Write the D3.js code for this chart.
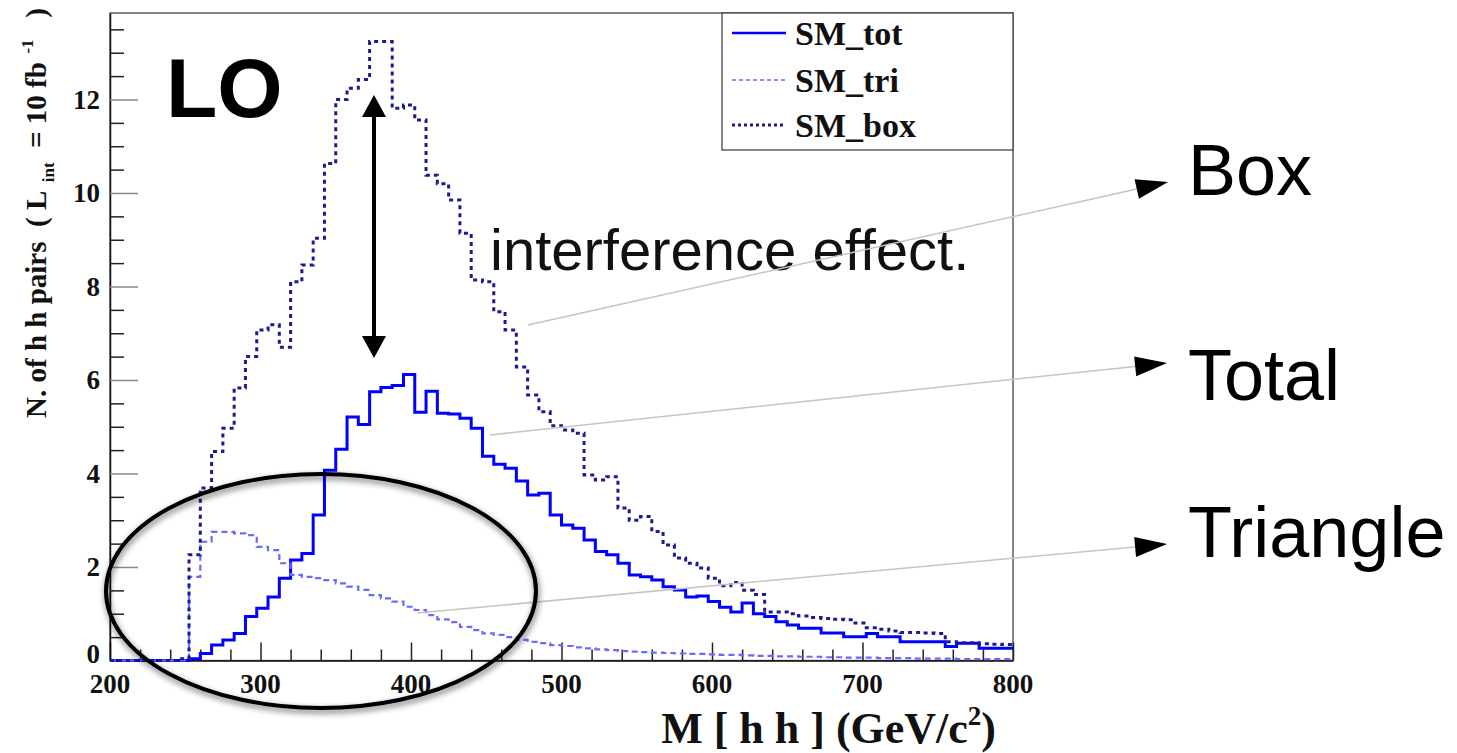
<!DOCTYPE html>
<html>
<head>
<meta charset="utf-8">
<script src="https://cdn.jsdelivr.net/npm/d3@7"></script>
<style>
  html, body { margin: 0; padding: 0; background: #fff; }
  svg { display: block; }
</style>
</head>
<body>
<svg id="chart" width="1457" height="753"></svg>
<script>
// Di-Higgs invariant mass, LO: 80 bins of 7.5 GeV between 200 and 800 GeV/c^2
const massMin = 200, massMax = 800, binWidth = 7.5;

// SM_tot: full amplitude (box + triangle, with interference)
const smTot = [
  0, 0, 0, 0, 0, 0, 0, 0.04, 0.15, 0.33,
  0.44, 0.58, 0.94, 1.12, 1.36, 1.76, 2.15, 2.29, 3.11, 4.07,
  4.52, 5.21, 5.05, 5.75, 5.84, 5.88, 6.12, 5.31, 5.76, 5.29,
  5.27, 5.18, 4.97, 4.37, 4.20, 4.11, 3.84, 3.54, 3.58, 3.11,
  2.90, 2.83, 2.58, 2.33, 2.26, 2.08, 1.83, 1.79, 1.72, 1.58,
  1.51, 1.36, 1.38, 1.26, 1.14, 1.04, 1.23, 1.00, 0.94, 0.83,
  0.76, 0.69, 0.69, 0.59, 0.59, 0.51, 0.51, 0.58, 0.51, 0.51,
  0.40, 0.40, 0.40, 0.40, 0.30, 0.37, 0.37, 0.26, 0.26, 0.26
];

// SM_tri: triangle diagram only
const smTri = [
  0, 0, 0, 0, 0, 0, 0, 1.79, 2.54, 2.75,
  2.75, 2.72, 2.68, 2.43, 2.36, 2.08, 1.83, 1.79, 1.76, 1.72,
  1.65, 1.58, 1.51, 1.40, 1.33, 1.26, 1.15, 1.08, 0.97, 0.88,
  0.82, 0.72, 0.65, 0.58, 0.55, 0.50, 0.44, 0.40, 0.37, 0.33,
  0.31, 0.28, 0.26, 0.24, 0.22, 0.20, 0.19, 0.18, 0.17, 0.16,
  0.15, 0.14, 0.14, 0.13, 0.12, 0.12, 0.11, 0.10, 0.10, 0.09,
  0.09, 0.08, 0.08, 0.07, 0.07, 0.06, 0.06, 0.06, 0.05, 0.05,
  0.05, 0.04, 0.04, 0.04, 0.04, 0.03, 0.03, 0.03, 0.03, 0.03
];

// SM_box: box diagram only
const smBox = [
  0, 0, 0, 0, 0, 0, 0.04, 2.26, 3.69, 4.47,
  4.97, 5.83, 6.50, 7.07, 7.18, 6.70, 8.10, 8.46, 9.03, 10.63,
  12.00, 12.24, 12.43, 13.24, 13.24, 11.81, 11.88, 11.56, 10.38, 10.20,
  9.85, 9.14, 8.14, 8.10, 7.46, 7.07, 6.28, 5.68, 5.32, 5.02,
  4.93, 4.86, 3.97, 3.86, 3.93, 3.26, 3.00, 3.08, 2.76, 2.47,
  2.19, 2.08, 1.98, 1.76, 1.60, 1.67, 1.50, 1.41, 1.04, 1.04,
  1.00, 0.95, 0.92, 0.90, 0.88, 0.87, 0.80, 0.70, 0.67, 0.63,
  0.60, 0.60, 0.59, 0.58, 0.40, 0.38, 0.38, 0.36, 0.35, 0.34
];

const xMajorTicks = [200, 300, 400, 500, 600, 700, 800];
const yMajorTicks = [0, 2, 4, 6, 8, 10, 12];
const legendLabels = ["SM_tot", "SM_tri", "SM_box"];
const calloutLabels = ["Box", "Total", "Triangle"];

const svg = d3.select("#chart");
const frame = { left: 110, right: 1013, top: 13, bottom: 660.5 };

const x = d3.scaleLinear().domain([massMin, massMax]).range([frame.left, frame.right]);
const y = d3.scaleLinear().domain([0, 13.85]).range([frame.bottom, frame.top]);

const serif = "'Liberation Serif', 'Times New Roman', serif";
const sans = "'Liberation Sans', Arial, Helvetica, sans-serif";

const defs = svg.append("defs");
const shadow = defs.append("filter").attr("id", "softShadow")
  .attr("x", "-10%").attr("y", "-10%").attr("width", "120%").attr("height", "130%");
shadow.append("feGaussianBlur").attr("in", "SourceAlpha").attr("stdDeviation", 3).attr("result", "blur");
shadow.append("feOffset").attr("in", "blur").attr("dx", 1).attr("dy", 3).attr("result", "off");
shadow.append("feComponentTransfer").attr("in", "off").attr("result", "shade")
  .append("feFuncA").attr("type", "linear").attr("slope", 0.6);
const merge = shadow.append("feMerge");
merge.append("feMergeNode").attr("in", "shade");
merge.append("feMergeNode").attr("in", "SourceGraphic");

// ---- frame ----
svg.append("rect")
  .attr("x", frame.left).attr("y", frame.top)
  .attr("width", frame.right - frame.left).attr("height", frame.bottom - frame.top)
  .attr("fill", "none").attr("stroke", "#444").attr("stroke-width", 1.3);

// ---- axes (ROOT-style ticks pointing inwards) ----
const xAxis = svg.append("g").attr("transform", `translate(0,${frame.bottom})`);
xAxis.call(d3.axisTop(x).tickValues(d3.range(massMin, massMax + 1, 20)).tickSizeOuter(0).tickFormat(""));
xAxis.selectAll(".tick line")
  .attr("y2", d => xMajorTicks.includes(d) ? -18 : -11)
  .attr("stroke", "#222").attr("stroke-width", 1.5);
xAxis.select(".domain").attr("stroke", "#111").attr("stroke-width", 1.5);

svg.append("g").selectAll("text").data(xMajorTicks).join("text")
  .attr("x", d => x(d)).attr("y", 693)
  .attr("text-anchor", "middle")
  .attr("font-family", serif).attr("font-weight", "bold").attr("font-size", 27)
  .attr("fill", "#111")
  .text(d => d);

const yAxis = svg.append("g").attr("transform", `translate(${frame.left},0)`);
yAxis.call(d3.axisRight(y).tickValues(d3.range(0, 13.6, 0.5)).tickSizeOuter(0).tickFormat(""));
yAxis.selectAll(".tick line")
  .attr("x2", d => yMajorTicks.includes(d) ? 28 : 14)
  .attr("stroke", d => yMajorTicks.includes(d) ? "#888" : "#222")
  .attr("stroke-width", 1.5);
yAxis.select(".domain").attr("stroke", "#111").attr("stroke-width", 1.5);

// the zero label is nudged up so it clears the first mass label below it
svg.append("g").selectAll("text").data(yMajorTicks).join("text")
  .attr("x", 100).attr("y", d => d === 0 ? y(d) - 7 : y(d))
  .attr("dy", "0.35em")
  .attr("text-anchor", "end")
  .attr("font-family", serif).attr("font-weight", "bold").attr("font-size", 27)
  .attr("fill", "#111")
  .text(d => d);

// axis titles
const xTitle = svg.append("text")
  .attr("x", 996).attr("y", 743)
  .attr("text-anchor", "end")
  .attr("font-family", serif).attr("font-weight", "bold").attr("font-size", 44)
  .attr("fill", "#111");
xTitle.append("tspan").text("M [ h h ] (GeV/c");
xTitle.append("tspan").attr("font-size", 27).attr("dy", -18).text("2");
xTitle.append("tspan").attr("dy", 18).text(")");

const yTitle = svg.append("text")
  .attr("transform", "translate(46,8) rotate(-90)")
  .attr("text-anchor", "end")
  .attr("font-family", serif).attr("font-weight", "bold").attr("font-size", 29)
  .attr("fill", "#111")
  .attr("xml:space", "preserve")
  .style("white-space", "pre");
yTitle.append("tspan").text("N. of h h pairs  ( L");
yTitle.append("tspan").attr("font-size", 17).attr("dy", 8).text("  int");
yTitle.append("tspan").attr("dy", -8).text("  = 10 fb");
yTitle.append("tspan").attr("font-size", 17).attr("dy", -13).text("  -1");
yTitle.append("tspan").attr("dy", 13).text("   )");

// ---- histograms ----
const edges = d3.range(smTot.length + 1).map(i => massMin + i * binWidth);
const stepLine = d3.line()
  .x(d => x(d[0])).y(d => y(d[1]))
  .curve(d3.curveStepAfter);
function histPoints(values) {
  const pts = values.map((v, i) => [edges[i], v]);
  pts.push([edges[values.length], values[values.length - 1]]);
  return pts;
}

const series = [
  { values: smTot, color: "#0000ff", width: 3, dash: null },
  { values: smTri, color: "#6a6aff", width: 2.2, dash: "6,4" },
  { values: smBox, color: "#1a1a92", width: 3, dash: "4,4" }
];
const histG = svg.append("g");
series.forEach(s => {
  histG.append("path")
    .attr("d", stepLine(histPoints(s.values)))
    .attr("fill", "none")
    .attr("stroke", s.color)
    .attr("stroke-width", s.width)
    .attr("stroke-dasharray", s.dash)
    .attr("stroke-linejoin", "miter");
});

// ---- legend ----
const legend = svg.append("g");
legend.append("rect")
  .attr("x", 722).attr("y", frame.top)
  .attr("width", frame.right - 722).attr("height", 150 - frame.top)
  .attr("fill", "#fff").attr("stroke", "#444").attr("stroke-width", 1.3);
const legendRows = [33, 80, 125];
series.forEach((s, i) => {
  legend.append("line")
    .attr("x1", 732).attr("x2", 786)
    .attr("y1", legendRows[i]).attr("y2", legendRows[i])
    .attr("stroke", s.color)
    .attr("stroke-width", i === 0 ? 2.5 : (i === 1 ? 1.5 : 3))
    .attr("stroke-dasharray", i === 0 ? null : (i === 1 ? "4,3" : "3,3"));
  legend.append("text")
    .attr("x", 795).attr("y", legendRows[i] + 12)
    .attr("font-family", serif).attr("font-weight", "bold").attr("font-size", 34)
    .attr("fill", "#111")
    .text(legendLabels[i]);
});

// ---- annotations ----
svg.append("text")
  .attr("x", 166).attr("y", 117)
  .attr("font-family", sans).attr("font-weight", "bold").attr("font-size", 84)
  .attr("fill", "#000")
  .text("LO");

svg.append("text")
  .attr("x", 490).attr("y", 270)
  .attr("font-family", sans).attr("font-size", 58)
  .attr("fill", "#111")
  .text("interference effect.");

// double-headed arrow between box and total peaks
const arrowX = 374, arrowTop = 95, arrowBottom = 358, headLen = 22, headHalf = 12;
svg.append("line")
  .attr("x1", arrowX).attr("x2", arrowX)
  .attr("y1", arrowTop + headLen - 2).attr("y2", arrowBottom - headLen + 2)
  .attr("stroke", "#000").attr("stroke-width", 4);
svg.append("path")
  .attr("d", `M${arrowX},${arrowTop} L${arrowX - headHalf},${arrowTop + headLen} L${arrowX + headHalf},${arrowTop + headLen} Z`)
  .attr("fill", "#000");
svg.append("path")
  .attr("d", `M${arrowX},${arrowBottom} L${arrowX - headHalf},${arrowBottom - headLen} L${arrowX + headHalf},${arrowBottom - headLen} Z`)
  .attr("fill", "#000");

// callout leader lines with arrowheads and labels
const callouts = [
  { from: [528, 325], to: [1168, 182], labelY: 195 },
  { from: [490, 435], to: [1167, 363], labelY: 400 },
  { from: [417, 613], to: [1167, 544], labelY: 557 }
];
callouts.forEach((c, i) => {
  const [x0, y0] = c.from, [x1, y1] = c.to;
  const ang = Math.atan2(y1 - y0, x1 - x0);
  const len = 32, half = 10;
  const bx = x1 - len * Math.cos(ang), by = y1 - len * Math.sin(ang);
  svg.append("line")
    .attr("x1", x0).attr("y1", y0).attr("x2", bx).attr("y2", by)
    .attr("stroke", "#c4c4c4").attr("stroke-width", 1.5);
  const px = -Math.sin(ang) * half, py = Math.cos(ang) * half;
  svg.append("path")
    .attr("d", `M${x1},${y1} L${bx + px},${by + py} L${bx - px},${by - py} Z`)
    .attr("fill", "#000");
  svg.append("text")
    .attr("x", 1188).attr("y", c.labelY)
    .attr("font-family", sans).attr("font-size", 72)
    .attr("fill", "#000")
    .text(calloutLabels[i]);
});

// ellipse highlighting the low-mass triangle region
svg.append("ellipse")
  .attr("cx", 321).attr("cy", 591)
  .attr("rx", 215).attr("ry", 117)
  .attr("fill", "none")
  .attr("stroke", "#000").attr("stroke-width", 4)
  .attr("filter", "url(#softShadow)");
</script>
</body>
</html>
